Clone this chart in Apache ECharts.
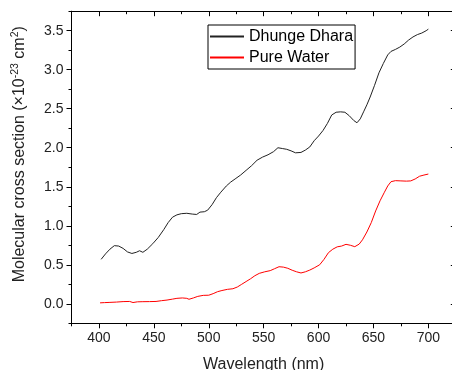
<!DOCTYPE html>
<html>
<head>
<meta charset="utf-8">
<script src="https://cdn.jsdelivr.net/npm/echarts@6/dist/echarts.min.js"></script>
<style>
  html, body { margin: 0; padding: 0; background: #fff; }
  #chart { width: 452px; height: 370px; }
</style>
</head>
<body>
<div id="chart"></div>
<script>
// Molecular cross section spectra (×10^-23 cm^2) versus wavelength (nm)
const dhungeWavelength = [402, 406, 410, 414, 418, 422, 426, 430, 434, 437, 440, 444, 449, 454, 459, 463, 467, 471, 475, 480, 485, 489, 492, 496, 499, 503, 507, 511, 516, 520, 524, 529, 534, 539, 544, 549, 554, 559, 563, 567, 571, 575, 579, 584, 588, 592, 596, 600, 604, 608, 612, 616, 620, 624, 628, 632, 635, 638, 641, 644, 647, 651, 655, 659, 663, 666, 670, 674, 678, 682, 686, 690, 694, 698, 700];
const dhungeValues = [0.57, 0.64, 0.70, 0.745, 0.74, 0.71, 0.665, 0.645, 0.66, 0.68, 0.66, 0.70, 0.77, 0.85, 0.95, 1.04, 1.11, 1.14, 1.155, 1.16, 1.15, 1.145, 1.175, 1.18, 1.20, 1.27, 1.36, 1.43, 1.51, 1.56, 1.60, 1.65, 1.71, 1.77, 1.84, 1.88, 1.91, 1.95, 2.00, 1.99, 1.98, 1.96, 1.935, 1.94, 1.97, 2.01, 2.09, 2.15, 2.22, 2.31, 2.42, 2.455, 2.46, 2.455, 2.41, 2.35, 2.32, 2.37, 2.46, 2.55, 2.65, 2.80, 2.96, 3.08, 3.19, 3.235, 3.26, 3.29, 3.33, 3.38, 3.42, 3.45, 3.47, 3.50, 3.52];

const waterWavelength = [401, 405, 410, 416, 422, 428, 431, 435, 440, 446, 452, 457, 462, 467, 471, 476, 480, 482, 486, 490, 495, 500, 504, 508, 512, 517, 522, 526, 530, 534, 538, 542, 546, 551, 556, 560, 564, 568, 572, 576, 580, 584, 588, 592, 596, 601, 605, 609, 613, 617, 621, 625, 629, 633, 637, 640, 644, 648, 652, 656, 660, 663, 666, 670, 675, 680, 684, 688, 692, 696, 700];
const waterValues = [0.012, 0.015, 0.018, 0.022, 0.028, 0.03, 0.016, 0.025, 0.027, 0.028, 0.03, 0.04, 0.048, 0.06, 0.07, 0.075, 0.07, 0.058, 0.075, 0.095, 0.108, 0.11, 0.13, 0.155, 0.17, 0.185, 0.193, 0.215, 0.25, 0.285, 0.32, 0.36, 0.39, 0.41, 0.425, 0.45, 0.475, 0.47, 0.455, 0.43, 0.41, 0.395, 0.41, 0.432, 0.46, 0.50, 0.57, 0.655, 0.70, 0.73, 0.74, 0.762, 0.75, 0.732, 0.765, 0.82, 0.92, 1.04, 1.19, 1.32, 1.43, 1.51, 1.565, 1.578, 1.575, 1.572, 1.575, 1.60, 1.635, 1.65, 1.663];

const seriesNames = ['Dhunge Dhara', 'Pure Water'];
const seriesColors = ['#222222', '#ff0000'];

const xMajorTicks = [400, 450, 500, 550, 600, 650, 700];
const xMinorTicks = [375, 425, 475, 525, 575, 625, 675, 725];
const yMajorTicks = [0.0, 0.5, 1.0, 1.5, 2.0, 2.5, 3.0, 3.5];
const yMinorTicks = [-0.25, 0.25, 0.75, 1.25, 1.75, 2.25, 2.75, 3.25, 3.75];

const X_MIN = 375, X_MAX = 725, Y_MIN = -0.25, Y_MAX = 3.75;
const FONT = 'Liberation Sans, Arial, sans-serif';
const INK = '#000';

function pairs(xs, ys) { return xs.map((x, i) => [x, ys[i]]); }

function xAxisDef(position, ticks, len, inside, withLine, withLabels) {
  return {
    type: 'value', position, min: X_MIN, max: X_MAX,
    axisLine: { show: withLine, onZero: false, lineStyle: { color: INK, width: 1 } },
    axisTick: { show: true, customValues: ticks, inside, length: len, lineStyle: { color: INK, width: 1 } },
    axisLabel: withLabels ? {
      show: true, customValues: ticks, margin: 8, fontSize: 14, color: '#222', fontFamily: FONT,
      formatter: v => String(Math.round(v))
    } : { show: false },
    splitLine: { show: false }
  };
}

function yAxisDef(position, ticks, len, inside, withLine, withLabels) {
  return {
    type: 'value', position, min: Y_MIN, max: Y_MAX,
    axisLine: { show: withLine, onZero: false, lineStyle: { color: INK, width: 1 } },
    axisTick: { show: true, customValues: ticks, inside, length: len, lineStyle: { color: INK, width: 1 } },
    axisLabel: withLabels ? {
      show: true, customValues: ticks, margin: 8, fontSize: 14, color: '#222', fontFamily: FONT,
      formatter: v => v.toFixed(1)
    } : { show: false },
    splitLine: { show: false }
  };
}

const xAxes = [
  Object.assign(xAxisDef('bottom', xMajorTicks, 5, false, true, true), {
    name: 'Wavelength (nm)', nameLocation: 'middle', nameGap: 33,
    nameTextStyle: { fontSize: 16, color: '#222', fontFamily: FONT }
  }),
  xAxisDef('bottom', xMinorTicks, 3, false, false, false),
  xAxisDef('top', xMajorTicks, 5, true, true, false),
  xAxisDef('top', xMinorTicks, 3, true, false, false)
];

const yAxes = [
  Object.assign(yAxisDef('left', yMajorTicks, 5, false, true, true), {
    name: '{a|Molecular cross section (×10}{s|-23}{a| cm}{s|2}{a|)}',
    nameLocation: 'middle', nameGap: 44,
    nameTextStyle: {
      color: '#222', fontFamily: FONT, padding: [0, 0, 0, 26],
      rich: {
        a: { fontSize: 16, color: '#222', fontFamily: FONT, lineHeight: 18, verticalAlign: 'bottom' },
        s: { fontSize: 10.5, color: '#222', fontFamily: FONT, lineHeight: 18, verticalAlign: 'top' }
      }
    }
  }),
  yAxisDef('left', yMinorTicks, 3, false, false, false),
  yAxisDef('right', yMajorTicks, 5, true, true, false),
  yAxisDef('right', yMinorTicks, 3, true, false, false)
];

const chart = echarts.init(document.getElementById('chart'), null, { renderer: 'canvas' });
chart.setOption({
  animation: false,
  backgroundColor: '#fff',
  grid: {
    left: 71.5, top: 11.2, width: 384.3, height: 312.1,
    containLabel: false, outerBoundsMode: 'none'
  },
  legend: {
    orient: 'vertical', left: 208, top: 25,
    data: seriesNames,
    icon: 'rect',
    itemStyle: { borderWidth: 0 },
    borderColor: INK, borderWidth: 1, borderRadius: 0,
    padding: [3, 2, 3, 2],
    itemWidth: 34, itemHeight: 2, itemGap: 4,
    textStyle: { fontSize: 16, color: '#000', fontFamily: FONT, lineHeight: 17 }
  },
  xAxis: xAxes,
  yAxis: yAxes,
  series: [
    {
      name: seriesNames[0], type: 'line', xAxisIndex: 0, yAxisIndex: 0,
      data: pairs(dhungeWavelength, dhungeValues),
      symbol: 'none', showSymbol: false,
      lineStyle: { color: seriesColors[0], width: 1 }, itemStyle: { color: seriesColors[0] }
    },
    {
      name: seriesNames[1], type: 'line', xAxisIndex: 0, yAxisIndex: 0,
      data: pairs(waterWavelength, waterValues),
      symbol: 'none', showSymbol: false,
      lineStyle: { color: seriesColors[1], width: 1 }, itemStyle: { color: seriesColors[1] }
    }
  ]
});
</script>
</body>
</html>
